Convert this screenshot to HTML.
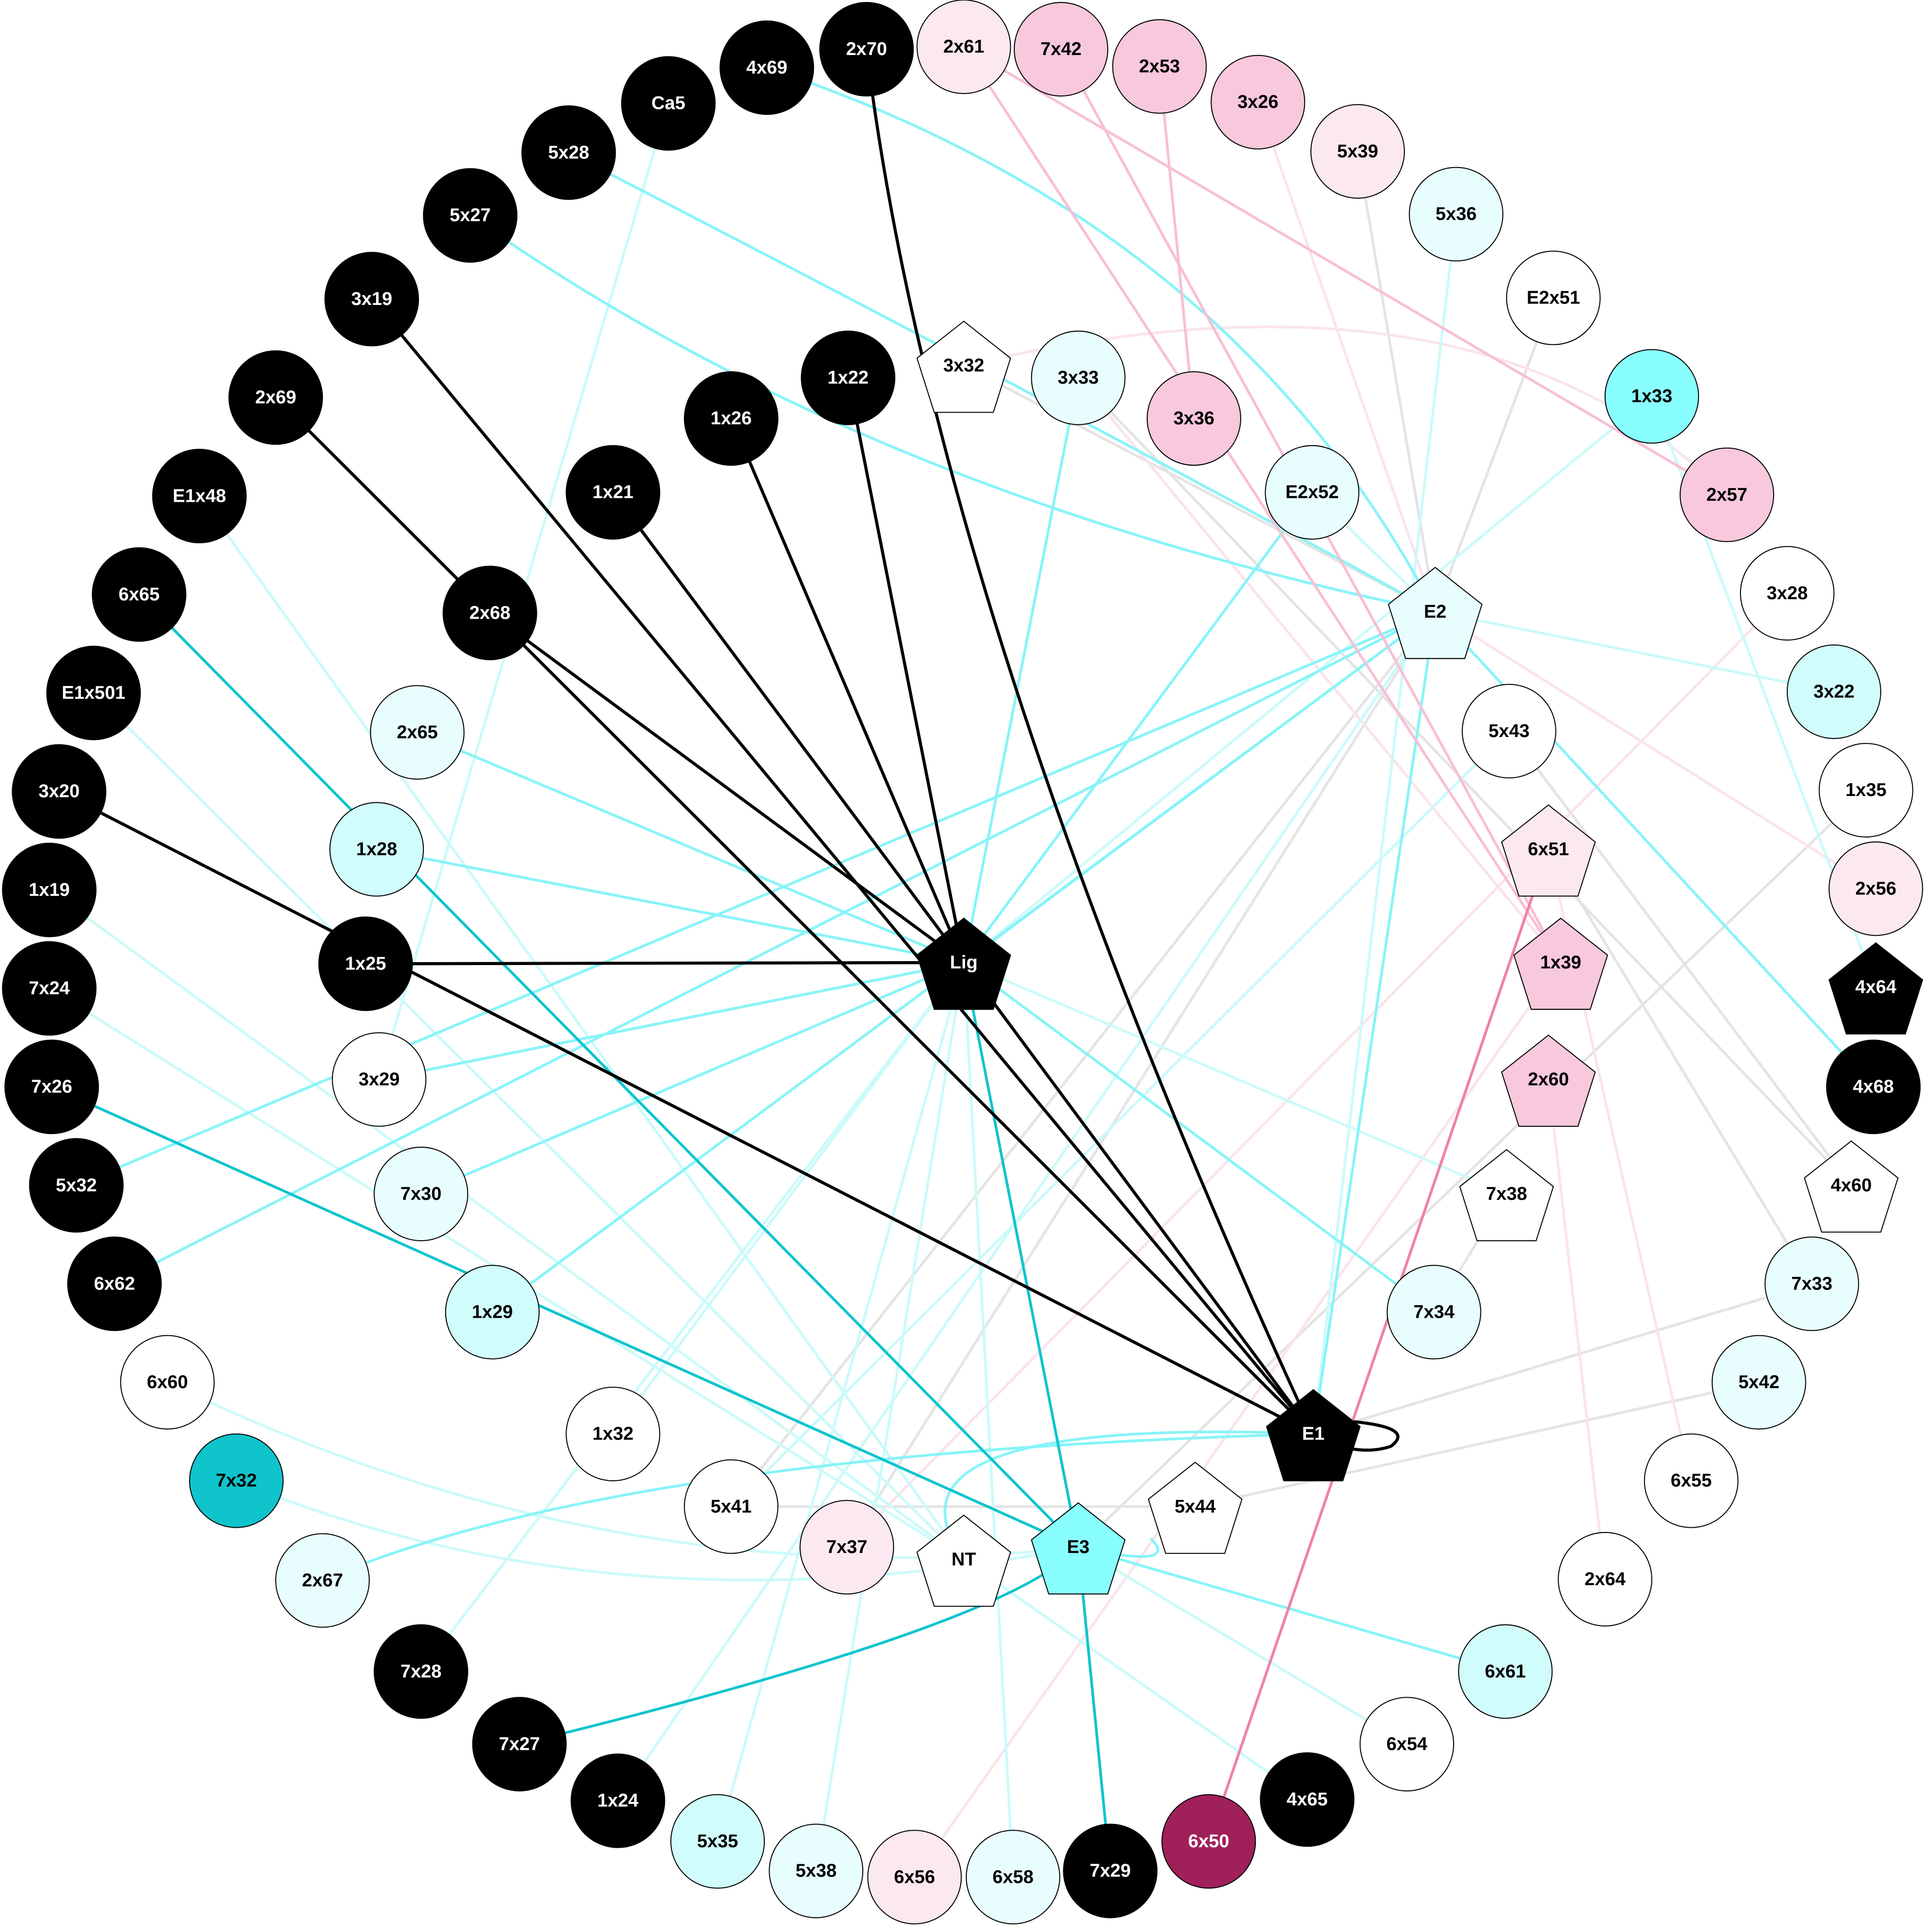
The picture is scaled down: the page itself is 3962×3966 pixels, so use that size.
<!DOCTYPE html>
<html><head><meta charset="utf-8"><style>html,body{margin:0;padding:0;background:#fff}svg{display:block}text{font-family:"Liberation Sans",Arial,sans-serif;font-weight:bold;font-size:15px;text-anchor:middle;dominant-baseline:central}</style></head><body>
<svg width="3962" height="3966" viewBox="0 0 1568 1569.6" xmlns="http://www.w3.org/2000/svg">
<rect width="1568" height="1570" fill="#fff"/>
<g fill="none" stroke-width="2.2">
<g stroke="#e4e4e4">
<line x1="1103" y1="123" x2="1166" y2="497"/><line x1="1262" y1="242" x2="1166" y2="497"/>
<line x1="876" y1="307" x2="1504" y2="963"/><line x1="1226" y1="594" x2="1504" y2="963"/>
<line x1="1258" y1="690" x2="1472" y2="1043"/><line x1="1067" y1="1165" x2="1472" y2="1043"/>
<line x1="971" y1="1224" x2="1429" y2="1123"/><line x1="594" y1="1224" x2="1166" y2="497"/>
<line x1="688" y1="1257" x2="1166" y2="497"/><line x1="1224" y1="970" x2="1165" y2="1066"/>
<line x1="1516" y1="642" x2="876" y2="1257"/><line x1="594" y1="1224" x2="971" y2="1224"/>
<line x1="783" y1="297" x2="1166" y2="497"/>
</g>
<g stroke="#fae4ec">
<line x1="1022" y1="83" x2="1166" y2="497"/><path d="M783 297 Q1200 200 1403 402"/>
<line x1="1258" y1="877" x2="1304" y2="1283"/><line x1="1258" y1="690" x2="1374" y2="1203"/>
<line x1="1268" y1="782" x2="743" y2="1525"/><line x1="1452" y1="482" x2="688" y2="1257"/>
<line x1="876" y1="307" x2="1268" y2="782"/><line x1="1524" y1="722" x2="1166" y2="497"/>
</g>
<g stroke="#ccfafa">
<line x1="543" y1="84" x2="308" y2="877"/><line x1="162" y1="403" x2="783" y2="1267"/>
<line x1="76" y1="563" x2="783" y2="1267"/><line x1="40" y1="723" x2="783" y2="1267"/>
<line x1="40" y1="803" x2="783" y2="1267"/><path d="M136 1123 Q500 1300 876 1257"/>
<path d="M192 1203 Q500 1330 876 1257"/><line x1="342" y1="1358" x2="783" y2="782"/>
<line x1="583" y1="1496" x2="783" y2="782"/><line x1="663" y1="1520" x2="783" y2="782"/>
<line x1="1342" y1="322" x2="1524" y2="802"/><line x1="1166" y1="497" x2="1490" y2="562"/>
<line x1="1183" y1="174" x2="1067" y2="1165"/><line x1="1342" y1="322" x2="783" y2="782"/>
<line x1="498" y1="1165" x2="783" y2="782"/><line x1="823" y1="1525" x2="783" y2="782"/>
<line x1="502" y1="1463" x2="1166" y2="497"/><line x1="1062" y1="1462" x2="783" y2="1267"/>
<line x1="1143" y1="1417" x2="876" y2="1257"/><line x1="1224" y1="970" x2="783" y2="782"/>
<line x1="1226" y1="594" x2="594" y2="1224"/><line x1="1066" y1="400" x2="1166" y2="497"/>
</g>
<g stroke="#88f4f8">
<path d="M623 55 Q1000 180 1166 497"/><path d="M462 124 Q900 350 1166 497"/>
<path d="M382 175 Q700 400 1166 497"/><line x1="1166" y1="497" x2="1522" y2="883"/>
<line x1="1166" y1="497" x2="1067" y2="1165"/><line x1="1166" y1="497" x2="783" y2="782"/>
<line x1="1166" y1="497" x2="62" y2="963"/><line x1="1166" y1="497" x2="93" y2="1043"/>
<line x1="1166" y1="497" x2="400" y2="1066"/><line x1="783" y1="782" x2="876" y2="307"/>
<line x1="783" y1="782" x2="339" y2="595"/><line x1="783" y1="782" x2="306" y2="690"/>
<line x1="783" y1="782" x2="308" y2="877"/><line x1="783" y1="782" x2="342" y2="970"/>
<line x1="783" y1="782" x2="1165" y2="1066"/><line x1="783" y1="782" x2="1066" y2="400"/>
<path d="M1067 1165 Q500 1180 262 1284"/><path d="M1067 1165 Q700 1150 783 1267"/>
<line x1="876" y1="1257" x2="1223" y2="1358"/><path d="M876 1257 Q960 1275 935 1250"/>
</g>
<g stroke="#f8c0d4"><line x1="783" y1="38" x2="1403" y2="402"/><line x1="862" y1="40" x2="1268" y2="782"/><line x1="942" y1="54" x2="970" y2="340"/><line x1="783" y1="38" x2="1268" y2="782"/></g>
<line stroke="#f080a8" x1="1258" y1="690" x2="982" y2="1496"/>
<g stroke="#10c4cc"><line x1="113" y1="483" x2="876" y2="1257"/><line x1="42" y1="883" x2="876" y2="1257"/><line x1="783" y1="782" x2="876" y2="1257"/><line x1="876" y1="1257" x2="902" y2="1520"/><path d="M876 1257 Q820 1320 422 1417"/></g>
<g stroke="#000" stroke-width="2.5">
<path d="M704 40 Q760 500 1067 1165"/><line x1="302" y1="243" x2="1067" y2="1165"/><line x1="224" y1="323" x2="1067" y2="1165"/><line x1="48" y1="643" x2="1067" y2="1165"/>
<line x1="689" y1="307" x2="783" y2="782"/><line x1="594" y1="340" x2="783" y2="782"/><line x1="498" y1="400" x2="783" y2="782"/><line x1="398" y1="498" x2="783" y2="782"/><line x1="297" y1="783" x2="783" y2="782"/><line x1="783" y1="782" x2="1067" y2="1165"/>
<path d="M1100 1155 Q1150 1160 1130 1175 Q1115 1180 1098 1177"/>
</g>
</g>
<g stroke="#000" stroke-width="0.8">
<g fill="#000"><circle cx="704" cy="40" r="38"/><circle cx="623" cy="55" r="38"/><circle cx="543" cy="84" r="38"/><circle cx="462" cy="124" r="38"/><circle cx="382" cy="175" r="38"/><circle cx="302" cy="243" r="38"/><circle cx="224" cy="323" r="38"/><circle cx="162" cy="403" r="38"/><circle cx="113" cy="483" r="38"/><circle cx="76" cy="563" r="38"/><circle cx="48" cy="643" r="38"/><circle cx="40" cy="723" r="38"/><circle cx="40" cy="803" r="38"/><circle cx="42" cy="883" r="38"/><circle cx="62" cy="963" r="38"/><circle cx="93" cy="1043" r="38"/><circle cx="689" cy="307" r="38"/><circle cx="594" cy="340" r="38"/><circle cx="498" cy="400" r="38"/><circle cx="398" cy="498" r="38"/><circle cx="297" cy="783" r="38"/><circle cx="342" cy="1358" r="38"/><circle cx="422" cy="1417" r="38"/><circle cx="502" cy="1463" r="38"/><circle cx="902" cy="1520" r="38"/><circle cx="1062" cy="1462" r="38"/><circle cx="1522" cy="883" r="38"/></g>
<g fill="#fce8f0"><circle cx="783" cy="38" r="38"/><circle cx="1103" cy="123" r="38"/><circle cx="1524" cy="722" r="38"/><circle cx="688" cy="1257" r="38"/><circle cx="743" cy="1525" r="38"/></g>
<g fill="#f8c8dc"><circle cx="862" cy="40" r="38"/><circle cx="942" cy="54" r="38"/><circle cx="1022" cy="83" r="38"/><circle cx="970" cy="340" r="38"/><circle cx="1403" cy="402" r="38"/></g>
<g fill="#e8fdfd"><circle cx="1183" cy="174" r="38"/><circle cx="876" cy="307" r="38"/><circle cx="1066" cy="400" r="38"/><circle cx="339" cy="595" r="38"/><circle cx="342" cy="970" r="38"/><circle cx="262" cy="1284" r="38"/><circle cx="663" cy="1520" r="38"/><circle cx="823" cy="1525" r="38"/><circle cx="1165" cy="1066" r="38"/><circle cx="1472" cy="1043" r="38"/><circle cx="1429" cy="1123" r="38"/></g>
<g fill="#d0fcfc"><circle cx="306" cy="690" r="38"/><circle cx="400" cy="1066" r="38"/><circle cx="583" cy="1496" r="38"/><circle cx="1490" cy="562" r="38"/><circle cx="1223" cy="1358" r="38"/></g>
<circle cx="1342" cy="322" r="38" fill="#88fefe"/><circle cx="192" cy="1203" r="38" fill="#10c4cc"/><circle cx="982" cy="1496" r="38" fill="#a0205a"/>
<g fill="#fff"><circle cx="1262" cy="242" r="38"/><circle cx="1452" cy="482" r="38"/><circle cx="1516" cy="642" r="38"/><circle cx="1226" cy="594" r="38"/><circle cx="308" cy="877" r="38"/><circle cx="136" cy="1123" r="38"/><circle cx="498" cy="1165" r="38"/><circle cx="594" cy="1224" r="38"/><circle cx="1374" cy="1203" r="38"/><circle cx="1304" cy="1283" r="38"/><circle cx="1143" cy="1417" r="38"/></g>
<g>
<polygon transform="translate(783,297)" fill="#fff" points="0,-36 38,-6 24,38 -24,38 -38,-6"/>
<polygon transform="translate(1166,497)" fill="#e8fdfd" points="0,-36 38,-6 24,38 -24,38 -38,-6"/>
<polygon transform="translate(783,782)" fill="#000" points="0,-36 38,-6 24,38 -24,38 -38,-6"/>
<polygon transform="translate(1258,690)" fill="#fce8f0" points="0,-36 38,-6 24,38 -24,38 -38,-6"/>
<polygon transform="translate(1268,782)" fill="#f8c8dc" points="0,-36 38,-6 24,38 -24,38 -38,-6"/>
<polygon transform="translate(1258,877)" fill="#f8c8dc" points="0,-36 38,-6 24,38 -24,38 -38,-6"/>
<polygon transform="translate(1224,970)" fill="#fff" points="0,-36 38,-6 24,38 -24,38 -38,-6"/>
<polygon transform="translate(1504,963)" fill="#fff" points="0,-36 38,-6 24,38 -24,38 -38,-6"/>
<polygon transform="translate(1524,802)" fill="#000" points="0,-36 38,-6 24,38 -24,38 -38,-6"/>
<polygon transform="translate(1067,1165)" fill="#000" points="0,-36 38,-6 24,38 -24,38 -38,-6"/>
<polygon transform="translate(971,1224)" fill="#fff" points="0,-36 38,-6 24,38 -24,38 -38,-6"/>
<polygon transform="translate(783,1267)" fill="#fff" points="0,-36 38,-6 24,38 -24,38 -38,-6"/>
<polygon transform="translate(876,1257)" fill="#88fefe" points="0,-36 38,-6 24,38 -24,38 -38,-6"/>
</g>
</g>
<g fill="#fff">
<text x="704" y="40">2x70</text><text x="623" y="55">4x69</text><text x="543" y="84">Ca5</text><text x="462" y="124">5x28</text><text x="382" y="175">5x27</text><text x="302" y="243">3x19</text><text x="224" y="323">2x69</text><text x="162" y="403">E1x48</text><text x="113" y="483">6x65</text><text x="76" y="563">E1x501</text><text x="48" y="643">3x20</text><text x="40" y="723">1x19</text><text x="40" y="803">7x24</text><text x="42" y="883">7x26</text><text x="62" y="963">5x32</text><text x="93" y="1043">6x62</text><text x="689" y="307">1x22</text><text x="594" y="340">1x26</text><text x="498" y="400">1x21</text><text x="398" y="498">2x68</text><text x="297" y="783">1x25</text><text x="342" y="1358">7x28</text><text x="422" y="1417">7x27</text><text x="502" y="1463">1x24</text><text x="902" y="1520">7x29</text><text x="1062" y="1462">4x65</text><text x="1522" y="883">4x68</text><text x="982" y="1496">6x50</text><text x="783" y="782">Lig</text><text x="1524" y="802">4x64</text><text x="1067" y="1165">E1</text>
</g>
<g fill="#000">
<text x="783" y="38">2x61</text><text x="1103" y="123">5x39</text><text x="1524" y="722">2x56</text><text x="688" y="1257">7x37</text><text x="743" y="1525">6x56</text><text x="862" y="40">7x42</text><text x="942" y="54">2x53</text><text x="1022" y="83">3x26</text><text x="970" y="340">3x36</text><text x="1403" y="402">2x57</text><text x="1183" y="174">5x36</text><text x="876" y="307">3x33</text><text x="1066" y="400">E2x52</text><text x="339" y="595">2x65</text><text x="342" y="970">7x30</text><text x="262" y="1284">2x67</text><text x="663" y="1520">5x38</text><text x="823" y="1525">6x58</text><text x="1165" y="1066">7x34</text><text x="1472" y="1043">7x33</text><text x="1429" y="1123">5x42</text><text x="306" y="690">1x28</text><text x="400" y="1066">1x29</text><text x="583" y="1496">5x35</text><text x="1490" y="562">3x22</text><text x="1223" y="1358">6x61</text><text x="1342" y="322">1x33</text><text x="192" y="1203">7x32</text><text x="1262" y="242">E2x51</text><text x="1452" y="482">3x28</text><text x="1516" y="642">1x35</text><text x="1226" y="594">5x43</text><text x="308" y="877">3x29</text><text x="136" y="1123">6x60</text><text x="498" y="1165">1x32</text><text x="594" y="1224">5x41</text><text x="1374" y="1203">6x55</text><text x="1304" y="1283">2x64</text><text x="1143" y="1417">6x54</text>
<text x="783" y="297">3x32</text><text x="1166" y="497">E2</text><text x="1258" y="690">6x51</text><text x="1268" y="782">1x39</text><text x="1258" y="877">2x60</text><text x="1224" y="970">7x38</text><text x="1504" y="963">4x60</text><text x="971" y="1224">5x44</text><text x="783" y="1267">NT</text><text x="876" y="1257">E3</text>
</g>
</svg>
</body></html>
